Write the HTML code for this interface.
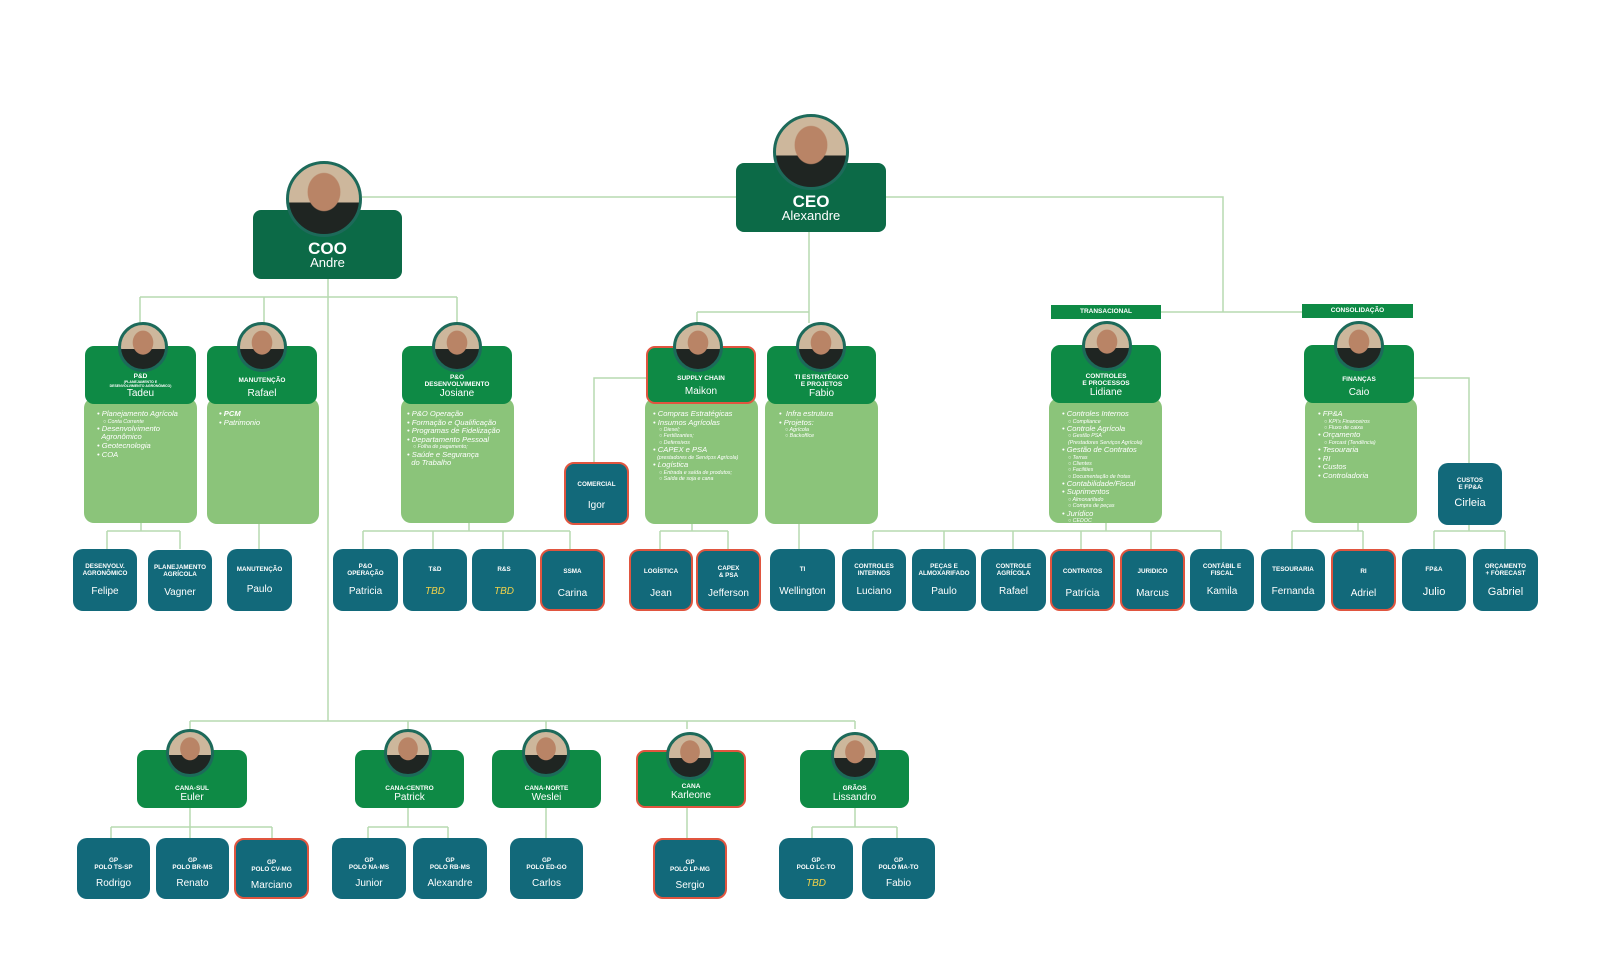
<!DOCTYPE html>
<html><head><meta charset="utf-8">
<style>
*{margin:0;padding:0;box-sizing:border-box}
body{width:1600px;height:980px;background:#fff;position:relative;overflow:hidden;font-family:"Liberation Sans",Arial,sans-serif}
.a{position:absolute}
.h{position:absolute;background:#0e8a45;border-radius:9px;color:#fff;text-align:center;display:flex;flex-direction:column;justify-content:flex-end;padding-bottom:4px}
.top{background:#0c6a47;border-radius:8px}
.bd{position:absolute;background:#8bc47a;border-radius:10px}
.t{font-weight:900;font-size:6.5px;line-height:6.5px}
.n{font-size:10px;line-height:12px}
.lf{position:absolute;background:#12697a;border-radius:10px;color:#fff;text-align:center}
.lf .t{position:absolute;left:0;right:0;top:15px;font-size:6.3px;line-height:6.8px}
.lf .t1{top:18px}
.lf .n{position:absolute;left:0;right:0;top:37px;font-size:10px}
.bt .t{top:20px}
.bt .n{top:40px}
.r{border:2px solid #e0553f}
.tbd{color:#f2d24a;font-style:italic}
.ph{position:absolute;border-radius:50%;border:3px solid #1d6a5a;background:radial-gradient(ellipse 24% 28% at 50% 40%,#b98466 0 95%,transparent 100%),linear-gradient(#cdb79c 0 55%,#1f2522 55%);}
.b{position:absolute;color:#fff;font-style:italic;font-size:7.6px;line-height:8.6px}
.b .s{font-size:5.3px;line-height:6.3px;padding-left:6px}
.lab{position:absolute;background:#0e8a45;color:#fff;font-weight:bold;font-size:6.5px;text-align:center;line-height:14px}
</style></head><body>
<svg class="a" style="left:0;top:0" width="1600" height="980">
<g stroke="#b7dab0" stroke-width="1.5" fill="none">
<path d="M362 197H736M886 197H1223V312M1161 312H1302"/>
<path d="M809 232V323M697 312H809M697 312V323"/>
<path d="M328 279V721M140 297H457M140 297V323M264 297V323M457 297V323"/>
<path d="M141 523V531M107 531H180M107 531V549M180 531V549M259 524V549"/>
<path d="M469 523V531M363 531H570M363 531V549M433 531V549M503 531V549M570 531V549"/>
<path d="M646 378H594V462M692 524V531M660 531H728M660 531V549M728 531V549M799 524V549"/>
<path d="M1106 523V531M873 531H1221M873 531V549M944 531V549M1013 531V549M1081 531V549M1151 531V549M1221 531V549"/>
<path d="M1414 378H1469V463M1358 523V531M1292 531H1363M1292 531V549M1363 531V549M1469 525V531M1434 531H1505M1434 531V549M1505 531V549"/>
<path d="M190 721H855M190 721V729M408 721V729M546 721V729M687 721V729M855 721V729"/>
<path d="M190 808V827M111 827H272M111 827V838M190 827V838M272 827V838"/>
<path d="M408 808V827M368 827H448M368 827V838M448 827V838M546 808V838M687 808V838M855 808V827M812 827H897M812 827V838M897 827V838"/>
</g></svg>

<div class="h top" style="left:736px;top:163px;width:150px;height:69px;padding-bottom:9px"><div style="font-weight:900;font-size:17px;line-height:15px">CEO</div><div style="font-size:13px;line-height:14px">Alexandre</div></div>
<div class="ph" style="left:773px;top:114px;width:76px;height:76px"></div>
<div class="h top" style="left:253px;top:210px;width:149px;height:69px;padding-bottom:9px"><div style="font-weight:900;font-size:17px;line-height:15px">COO</div><div style="font-size:13px;line-height:14px">Andre</div></div>
<div class="ph" style="left:286px;top:161px;width:76px;height:76px"></div>

<div class="bd" style="left:84px;top:398px;width:113px;height:125px"></div>
<div class="bd" style="left:207px;top:398px;width:112px;height:126px"></div>
<div class="bd" style="left:401px;top:398px;width:113px;height:125px"></div>
<div class="bd" style="left:645px;top:398px;width:113px;height:126px"></div>
<div class="bd" style="left:765px;top:398px;width:113px;height:126px"></div>
<div class="bd" style="left:1049px;top:398px;width:113px;height:125px"></div>
<div class="bd" style="left:1305px;top:398px;width:112px;height:125px"></div>

<div class="lab" style="left:1051px;top:305px;width:110px;height:14px">TRANSACIONAL</div>
<div class="lab" style="left:1302px;top:304px;width:111px;height:14px">CONSOLIDAÇÃO</div>

<div class="h" style="left:85px;top:346px;width:111px;height:58px"><div class="t">P&amp;D</div><div style="font-size:3.5px;line-height:4px;font-weight:bold">(PLANEJAMENTO E<br>DESENVOLVIMENTO AGRONÔMICO)</div><div class="n">Tadeu</div></div>
<div class="h" style="left:207px;top:346px;width:110px;height:58px"><div class="t" style="margin-bottom:4px">MANUTENÇÃO</div><div class="n">Rafael</div></div>
<div class="h" style="left:402px;top:346px;width:110px;height:58px"><div class="t">P&amp;O<br>DESENVOLVIMENTO</div><div class="n">Josiane</div></div>
<div class="h r" style="left:646px;top:346px;width:110px;height:58px"><div class="t" style="margin-bottom:4px">SUPPLY CHAIN</div><div class="n">Maikon</div></div>
<div class="h" style="left:767px;top:346px;width:109px;height:58px"><div class="t">TI ESTRATÉGICO<br>E PROJETOS</div><div class="n">Fabio</div></div>
<div class="h" style="left:1051px;top:345px;width:110px;height:58px"><div class="t">CONTROLES<br>E PROCESSOS</div><div class="n">Lidiane</div></div>
<div class="h" style="left:1304px;top:345px;width:110px;height:58px"><div class="t" style="margin-bottom:4px">FINANÇAS</div><div class="n">Caio</div></div>

<div class="ph" style="left:118px;top:322px;width:50px;height:50px"></div>
<div class="ph" style="left:237px;top:322px;width:50px;height:50px"></div>
<div class="ph" style="left:432px;top:322px;width:50px;height:50px"></div>
<div class="ph" style="left:673px;top:322px;width:50px;height:50px"></div>
<div class="ph" style="left:796px;top:322px;width:50px;height:50px"></div>
<div class="ph" style="left:1082px;top:321px;width:50px;height:50px"></div>
<div class="ph" style="left:1334px;top:321px;width:50px;height:50px"></div>

<div class="b" style="left:97px;top:410px">• Planejamento Agrícola<div class="s">○ Conta Corrente</div>• Desenvolvimento<br>&nbsp;&nbsp;Agronômico<br>• Geotecnologia<br>• COA</div>
<div class="b" style="left:219px;top:410px;font-weight:bold">• PCM<br><span style="font-weight:normal">• Patrimonio</span></div>
<div class="b" style="left:407px;top:410px">• P&amp;O Operação<br>• Formação e Qualificação<br>• Programas de Fidelização<br>• Departamento Pessoal<div class="s">○ Folha de pagamento;</div>• Saúde e Segurança<br>&nbsp;&nbsp;do Trabalho</div>
<div class="b" style="left:653px;top:410px">• Compras Estratégicas<br>• Insumos Agrícolas<div class="s">○ Diesel;<br>○ Fertilizantes;<br>○ Defensivos</div>• CAPEX e PSA<div class="s" style="padding-left:4px">(prestadores de Serviços Agrícola)</div>• Logística<div class="s">○ Entrada e saída de produtos;<br>○ Saída de soja e cana</div></div>
<div class="b" style="left:779px;top:410px">• &nbsp;Infra estrutura<br>• Projetos:<div class="s">○ Agrícola<br>○ Backoffice</div></div>
<div class="b" style="left:1062px;top:410px">• Controles Internos<div class="s">○ Compliance</div>• Controle Agrícola<div class="s">○ Gestão PSA<br>(Prestadores Serviços Agrícola)</div>• Gestão de Contratos<div class="s">○ Terras<br>○ Clientes<br>○ Facilities<br>○ Documentação de frotas</div>• Contabilidade/Fiscal<br>• Suprimentos<div class="s">○ Almoxarifado<br>○ Compra de peças</div>• Jurídico<div class="s">○ CEDOC</div></div>
<div class="b" style="left:1318px;top:410px">• FP&amp;A<div class="s">○ KPI's Financeiros<br>○ Fluxo de caixa</div>• Orçamento<div class="s">○ Forcast (Tendência)</div>• Tesouraria<br>• RI<br>• Custos<br>• Controladoria</div>

<div class="lf r" style="left:564px;top:462px;width:65px;height:63px"><div class="t" style="top:18px">COMERCIAL</div><div class="n" style="top:36px">Igor</div></div>
<div class="lf" style="left:1438px;top:463px;width:64px;height:62px"><div class="t" style="top:15px">CUSTOS<br>E FP&amp;A</div><div class="n" style="top:34px;font-size:11px">Cirleia</div></div>

<div class="lf" style="left:73px;top:549px;width:64px;height:62px"><div class="t">DESENVOLV.<br>AGRONÔMICO</div><div class="n">Felipe</div></div>
<div class="lf" style="left:148px;top:550px;width:64px;height:61px"><div class="t">PLANEJAMENTO<br>AGRÍCOLA</div><div class="n">Vagner</div></div>
<div class="lf" style="left:227px;top:549px;width:65px;height:62px"><div class="t t1">MANUTENÇÃO</div><div class="n" style="top:35px">Paulo</div></div>
<div class="lf" style="left:333px;top:549px;width:65px;height:62px"><div class="t">P&amp;O<br>OPERAÇÃO</div><div class="n">Patricia</div></div>
<div class="lf" style="left:403px;top:549px;width:64px;height:62px"><div class="t t1">T&amp;D</div><div class="n tbd">TBD</div></div>
<div class="lf" style="left:472px;top:549px;width:64px;height:62px"><div class="t t1">R&amp;S</div><div class="n tbd">TBD</div></div>
<div class="lf r" style="left:540px;top:549px;width:65px;height:62px"><div class="t t1">SSMA</div><div class="n">Carina</div></div>
<div class="lf r" style="left:629px;top:549px;width:64px;height:62px"><div class="t t1">LOGÍSTICA</div><div class="n">Jean</div></div>
<div class="lf r" style="left:696px;top:549px;width:65px;height:62px"><div class="t">CAPEX<br>&amp; PSA</div><div class="n">Jefferson</div></div>
<div class="lf" style="left:770px;top:549px;width:65px;height:62px"><div class="t t1">TI</div><div class="n">Wellington</div></div>
<div class="lf" style="left:842px;top:549px;width:64px;height:62px"><div class="t">CONTROLES<br>INTERNOS</div><div class="n">Luciano</div></div>
<div class="lf" style="left:912px;top:549px;width:64px;height:62px"><div class="t">PEÇAS E<br>ALMOXARIFADO</div><div class="n">Paulo</div></div>
<div class="lf" style="left:981px;top:549px;width:65px;height:62px"><div class="t">CONTROLE<br>AGRÍCOLA</div><div class="n">Rafael</div></div>
<div class="lf r" style="left:1050px;top:549px;width:65px;height:62px"><div class="t t1">CONTRATOS</div><div class="n">Patrícia</div></div>
<div class="lf r" style="left:1120px;top:549px;width:65px;height:62px"><div class="t t1">JURIDICO</div><div class="n">Marcus</div></div>
<div class="lf" style="left:1190px;top:549px;width:64px;height:62px"><div class="t">CONTÁBIL E<br>FISCAL</div><div class="n">Kamila</div></div>
<div class="lf" style="left:1261px;top:549px;width:64px;height:62px"><div class="t t1">TESOURARIA</div><div class="n">Fernanda</div></div>
<div class="lf r" style="left:1331px;top:549px;width:65px;height:62px"><div class="t t1">RI</div><div class="n">Adriel</div></div>
<div class="lf" style="left:1402px;top:549px;width:64px;height:62px"><div class="t t1">FP&amp;A</div><div class="n" style="font-size:11px">Julio</div></div>
<div class="lf" style="left:1473px;top:549px;width:65px;height:62px"><div class="t">ORÇAMENTO<br>+ FORECAST</div><div class="n" style="font-size:11px">Gabriel</div></div>

<div class="h" style="left:137px;top:750px;width:110px;height:58px"><div class="t">CANA-SUL</div><div class="n">Euler</div></div>
<div class="h" style="left:355px;top:750px;width:109px;height:58px"><div class="t">CANA-CENTRO</div><div class="n">Patrick</div></div>
<div class="h" style="left:492px;top:750px;width:109px;height:58px"><div class="t">CANA-NORTE</div><div class="n">Weslei</div></div>
<div class="h r" style="left:636px;top:750px;width:110px;height:58px"><div class="t">CANA</div><div class="n">Karleone</div></div>
<div class="h" style="left:800px;top:750px;width:109px;height:58px"><div class="t">GRÃOS</div><div class="n">Lissandro</div></div>
<div class="ph" style="left:166px;top:729px;width:48px;height:48px"></div>
<div class="ph" style="left:384px;top:729px;width:48px;height:48px"></div>
<div class="ph" style="left:522px;top:729px;width:48px;height:48px"></div>
<div class="ph" style="left:666px;top:732px;width:48px;height:48px"></div>
<div class="ph" style="left:831px;top:732px;width:48px;height:48px"></div>

<div class="lf bt" style="left:77px;top:838px;width:73px;height:61px"><div class="t">GP<br>POLO TS-SP</div><div class="n">Rodrigo</div></div>
<div class="lf bt" style="left:156px;top:838px;width:73px;height:61px"><div class="t">GP<br>POLO BR-MS</div><div class="n">Renato</div></div>
<div class="lf bt r" style="left:234px;top:838px;width:75px;height:61px"><div class="t">GP<br>POLO CV-MG</div><div class="n">Marciano</div></div>
<div class="lf bt" style="left:332px;top:838px;width:74px;height:61px"><div class="t">GP<br>POLO NA-MS</div><div class="n">Junior</div></div>
<div class="lf bt" style="left:413px;top:838px;width:74px;height:61px"><div class="t">GP<br>POLO RB-MS</div><div class="n">Alexandre</div></div>
<div class="lf bt" style="left:510px;top:838px;width:73px;height:61px"><div class="t">GP<br>POLO ED-GO</div><div class="n">Carlos</div></div>
<div class="lf bt r" style="left:653px;top:838px;width:74px;height:61px"><div class="t">GP<br>POLO LP-MG</div><div class="n">Sergio</div></div>
<div class="lf bt" style="left:779px;top:838px;width:74px;height:61px"><div class="t">GP<br>POLO LC-TO</div><div class="n tbd">TBD</div></div>
<div class="lf bt" style="left:862px;top:838px;width:73px;height:61px"><div class="t">GP<br>POLO MA-TO</div><div class="n">Fabio</div></div>
</body></html>
